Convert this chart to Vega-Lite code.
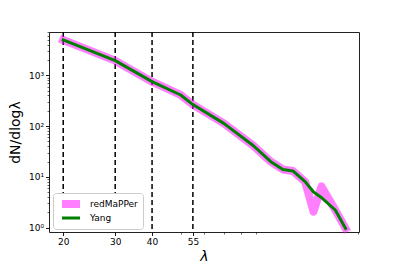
{
  "$schema": "https://vega.github.io/schema/vega-lite/v6.json",
  "width": 310,
  "height": 200,
  "autosize": "none",
  "padding": {"left": 49, "top": 32, "right": 40, "bottom": 34},
  "config": {
    "font": "DejaVu Sans",
    "view": {"stroke": "#222222", "strokeWidth": 1},
    "axis": {
      "domain": false,
      "grid": false,
      "tickColor": "#000000",
      "labelColor": "#000000",
      "labelFontSize": 9,
      "labelFont": "DejaVu Sans",
      "labelOverlap": false,
      "labelFlush": false,
      "labelBound": false,
      "titleFont": "DejaVu Sans",
      "titleFontSize": 14,
      "titleFontWeight": "normal",
      "titleColor": "#000000"
    }
  },
  "layer": [
    {
      "data": {"values": [{"lam": 20}, {"lam": 30}, {"lam": 40}, {"lam": 55}]},
      "mark": {"type": "rule", "strokeDash": [5, 3], "strokeWidth": 1.5, "color": "#000000"},
      "encoding": {
        "x": {
          "field": "lam",
          "type": "quantitative",
          "scale": {"type": "log", "domain": [17.9, 201], "nice": false},
          "axis": {
            "title": "λ",
            "titleFontStyle": "italic",
            "titlePadding": 3,
            "values": [20, 30, 40, 50, 55, 60, 70, 80, 90, 200],
            "labelExpr": "indexof([20,30,40,55], datum.value) >= 0 ? format(datum.value, 'd') : ''",
            "labelPadding": 2,
            "tickSize": {"condition": {"test": "indexof([20,30,40,55], datum.value) >= 0", "value": 3.5}, "value": 2},
            "tickWidth": {"condition": {"test": "indexof([20,30,40,55], datum.value) >= 0", "value": 0.9}, "value": 0.6}
          }
        }
      }
    },
    {
      "data": {
        "values": [
          {"series": "redMaPPer", "lam": 20, "dN": 4955},
          {"series": "redMaPPer", "lam": 30, "dN": 1938},
          {"series": "redMaPPer", "lam": 40, "dN": 748},
          {"series": "redMaPPer", "lam": 50, "dN": 409},
          {"series": "redMaPPer", "lam": 55, "dN": 265},
          {"series": "redMaPPer", "lam": 70, "dN": 113},
          {"series": "redMaPPer", "lam": 88, "dN": 41.5},
          {"series": "redMaPPer", "lam": 101, "dN": 19.9},
          {"series": "redMaPPer", "lam": 111, "dN": 14.0},
          {"series": "redMaPPer", "lam": 120, "dN": 13.1},
          {"series": "redMaPPer", "lam": 132, "dN": 8.05},
          {"series": "redMaPPer", "lam": 141, "dN": 2.07},
          {"series": "redMaPPer", "lam": 150, "dN": 6.5},
          {"series": "redMaPPer", "lam": 167, "dN": 2.23},
          {"series": "redMaPPer", "lam": 181, "dN": 0.97},
          {"series": "Yang", "lam": 20, "dN": 4955},
          {"series": "Yang", "lam": 30, "dN": 1938},
          {"series": "Yang", "lam": 40, "dN": 748},
          {"series": "Yang", "lam": 50, "dN": 409},
          {"series": "Yang", "lam": 55, "dN": 265},
          {"series": "Yang", "lam": 70, "dN": 113},
          {"series": "Yang", "lam": 88, "dN": 41.5},
          {"series": "Yang", "lam": 101, "dN": 19.9},
          {"series": "Yang", "lam": 111, "dN": 14.0},
          {"series": "Yang", "lam": 120, "dN": 13.1},
          {"series": "Yang", "lam": 132, "dN": 8.05},
          {"series": "Yang", "lam": 141, "dN": 5.04},
          {"series": "Yang", "lam": 151, "dN": 3.79},
          {"series": "Yang", "lam": 167, "dN": 2.23},
          {"series": "Yang", "lam": 181, "dN": 0.97}
        ]
      },
      "mark": {"type": "line", "strokeCap": "square", "strokeJoin": "round"},
      "encoding": {
        "x": {
          "field": "lam",
          "type": "quantitative",
          "scale": {"type": "log", "domain": [17.9, 201], "nice": false}
        },
        "y": {
          "field": "dN",
          "type": "quantitative",
          "scale": {"type": "log", "domain": [0.823, 7100], "nice": false},
          "axis": {
            "title": "dN/dlogλ",
            "titlePadding": 6,
            "values": [1, 2, 3, 4, 5, 6, 7, 8, 9, 10, 20, 30, 40, 50, 60, 70, 80, 90, 100, 200, 300, 400, 500, 600, 700, 800, 900, 1000, 2000, 3000, 4000, 5000, 6000, 7000],
            "labelExpr": "datum.value == 1 ? '10⁰' : datum.value == 10 ? '10¹' : datum.value == 100 ? '10²' : datum.value == 1000 ? '10³' : ''",
            "labelPadding": 2,
            "tickSize": {"condition": {"test": "indexof([1,10,100,1000], datum.value) >= 0", "value": 3.5}, "value": 2},
            "tickWidth": {"condition": {"test": "indexof([1,10,100,1000], datum.value) >= 0", "value": 0.9}, "value": 0.6}
          }
        },
        "color": {
          "field": "series",
          "type": "nominal",
          "scale": {"domain": ["redMaPPer", "Yang"], "range": ["#ff00ff", "#008000"]},
          "legend": {
            "title": null,
            "orient": "bottom-left",
            "offset": 3.5,
            "padding": 5,
            "strokeColor": "#cccccc",
            "fillColor": "#ffffff",
            "cornerRadius": 3,
            "symbolType": "stroke",
            "symbolSize": 324,
            "clipHeight": 12,
            "rowPadding": 2,
            "labelFontSize": 9,
            "labelFont": "DejaVu Sans",
            "labelColor": "#000000",
            "labelOffset": 6,
            "encode": {
              "symbols": {
                "update": {
                  "strokeWidth": {"signal": "datum.value == 'redMaPPer' ? 7 : 3"},
                  "opacity": {"signal": "datum.value == 'redMaPPer' ? 0.5 : 1"}
                }
              }
            }
          }
        },
        "strokeWidth": {
          "field": "series",
          "type": "nominal",
          "scale": {"domain": ["redMaPPer", "Yang"], "range": [8, 3]},
          "legend": null
        },
        "opacity": {
          "field": "series",
          "type": "nominal",
          "scale": {"domain": ["redMaPPer", "Yang"], "range": [0.5, 1]},
          "legend": null
        }
      }
    }
  ]
}
